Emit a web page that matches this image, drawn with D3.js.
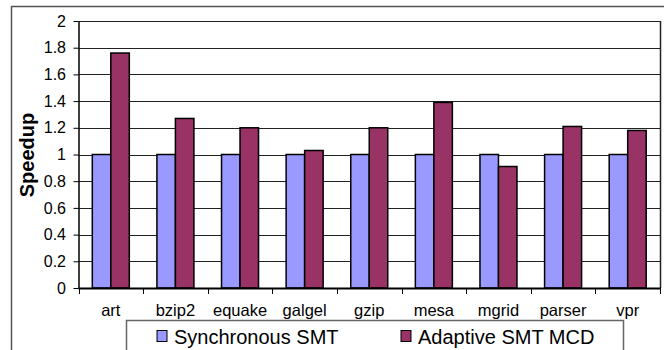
<!DOCTYPE html>
<html>
<head>
<meta charset="utf-8">
<script src="https://cdn.jsdelivr.net/npm/d3@7"></script>
<style>
  html, body { margin: 0; padding: 0; background: #fff; }
  svg { display: block; font-family: "Liberation Sans", Arial, sans-serif; }
</style>
</head>
<body>
<svg id="chart" width="664" height="350"></svg>
<script>
// Benchmarks and speedups per configuration
const categories = ["art", "bzip2", "equake", "galgel", "gzip", "mesa", "mgrid", "parser", "vpr"];
const syncSMT = [1, 1, 1, 1, 1, 1, 1, 1, 1];
const adaptiveSMT = [1.76, 1.27, 1.20, 1.03, 1.20, 1.39, 0.91, 1.21, 1.18];
const seriesNames = ["Synchronous SMT", "Adaptive SMT MCD"];
const yTicks = [0, 0.2, 0.4, 0.6, 0.8, 1, 1.2, 1.4, 1.6, 1.8, 2];

const colors = ["#9999FF", "#993366"];
const svg = d3.select("#chart");

// Outer chart frame
svg.append("path")
  .attr("d", "M11.5,350 L11.5,6.5 L664,6.5")
  .attr("fill", "none").attr("stroke", "#555").attr("stroke-width", 1.5);

const plot = { left: 78.5, right: 660, top: 21, bottom: 288 };

const x = d3.scaleBand().domain(categories).range([plot.left, plot.right]).padding(0);
const y = d3.scaleLinear().domain([0, 2]).range([plot.bottom, plot.top]);

const groupW = 37;
const inner = d3.scaleBand().domain([0, 1]).range([0, groupW]).padding(0);

// Gridlines
svg.append("g").selectAll("line").data(yTicks.filter(d => d > 0)).join("line")
  .attr("x1", plot.left).attr("x2", plot.right)
  .attr("y1", d => Math.round(y(d)) + 0.5).attr("y2", d => Math.round(y(d)) + 0.5)
  .attr("stroke", "#222").attr("stroke-width", 1);

// Right border of the plot area
svg.append("line")
  .attr("x1", plot.right + 0.5).attr("x2", plot.right + 0.5)
  .attr("y1", plot.top).attr("y2", plot.bottom)
  .attr("stroke", "#222").attr("stroke-width", 1.5);

// Bars
const data = categories.map((c, i) => ({ c, vals: [syncSMT[i], adaptiveSMT[i]] }));
const groups = svg.append("g").selectAll("g").data(data).join("g")
  .attr("transform", d => `translate(${x(d.c) + x.bandwidth() / 2 - groupW / 2},0)`);
groups.selectAll("rect").data(d => d.vals.map((v, k) => ({ v, k }))).join("rect")
  .attr("x", d => inner(d.k))
  .attr("width", inner.bandwidth())
  .attr("y", d => y(d.v))
  .attr("height", d => y(0) - y(d.v))
  .attr("fill", d => colors[d.k])
  .attr("stroke", "#000").attr("stroke-width", 1.5);

// Y axis
const yAxis = d3.axisLeft(y).tickValues(yTicks).tickSize(5).tickSizeOuter(0)
  .tickFormat(d => d3.format("")(+d.toFixed(1)));
const gy = svg.append("g").attr("transform", `translate(${plot.left},0)`).call(yAxis);
gy.select(".domain").attr("stroke", "#000").attr("stroke-width", 1.5);
gy.selectAll(".tick line").attr("stroke", "#000");
gy.selectAll(".tick text").attr("font-size", 16).attr("fill", "#000").attr("x", -12.5);

// X axis with ticks on category boundaries
const gx = svg.append("g").attr("transform", `translate(0,${plot.bottom})`);
gx.append("line").attr("x1", plot.left).attr("x2", plot.right + 1)
  .attr("y1", 0.5).attr("y2", 0.5).attr("stroke", "#000").attr("stroke-width", 2);
const bounds = categories.map(c => x(c)).concat([plot.right]);
gx.selectAll("line.tk").data(bounds).join("line").attr("class", "tk")
  .attr("x1", d => Math.round(d) + 0.5).attr("x2", d => Math.round(d) + 0.5)
  .attr("y1", 0).attr("y2", 6).attr("stroke", "#000");
gx.selectAll("text").data(categories).join("text")
  .attr("x", d => x(d) + x.bandwidth() / 2)
  .attr("y", 28)
  .attr("text-anchor", "middle")
  .attr("font-size", 16.5).attr("fill", "#000")
  .text(d => d);

// Y axis title
svg.append("text")
  .attr("transform", "translate(34,155) rotate(-90)")
  .attr("text-anchor", "middle")
  .attr("font-size", 20).attr("font-weight", "bold")
  .text("Speedup");

// Legend
const lg = svg.append("g");
lg.append("path")
  .attr("d", "M126.5,351 L126.5,320.5 L623.5,320.5 L623.5,351")
  .attr("fill", "#fff").attr("stroke", "#666").attr("stroke-width", 1.5);
const legendX = [157, 401];
seriesNames.forEach((name, i) => {
  lg.append("rect").attr("x", legendX[i]).attr("y", 330.5).attr("width", 10).attr("height", 11)
    .attr("fill", colors[i]).attr("stroke", "#000").attr("stroke-width", 1);
  lg.append("text").attr("x", legendX[i] + 17).attr("y", 343.5)
    .attr("font-size", 20).attr("fill", "#000").text(name);
});
</script>
</body>
</html>
